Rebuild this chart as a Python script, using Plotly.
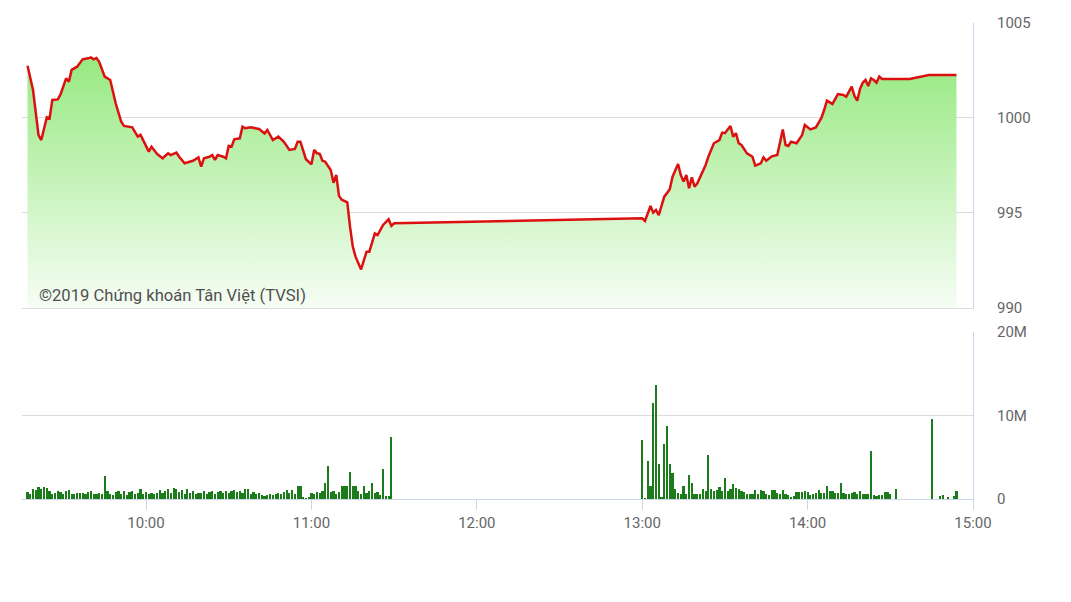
import pandas as pd
import plotly.graph_objects as go

DAY = "2019-01-01 "

# ---- price (VN-Index intraday) ----
price_times = [
    "09:17", "09:19", "09:21", "09:22", "09:24", "09:25", "09:26", "09:28", "09:29", "09:31",
    "09:32", "09:33", "09:35", "09:37", "09:39", "09:40", "09:41", "09:42", "09:43", "09:45",
    "09:47", "09:49", "09:51", "09:52", "09:55", "09:56", "09:57", "09:58", "10:01", "10:02",
    "10:04", "10:06", "10:08", "10:09", "10:11", "10:12", "10:14", "10:17", "10:19", "10:20",
    "10:21", "10:23", "10:24", "10:25", "10:26", "10:28", "10:29", "10:30", "10:31", "10:32",
    "10:34", "10:35", "10:36", "10:38", "10:41", "10:43", "10:44", "10:46", "10:48", "10:50",
    "10:52", "10:54", "10:55", "10:56", "10:58", "11:00", "11:01", "11:02", "11:03", "11:04",
    "11:05", "11:07", "11:08", "11:09", "11:10", "11:11", "11:13", "11:14", "11:15", "11:16",
    "11:18", "11:20", "11:21", "11:23", "11:24", "11:26", "11:28", "11:29", "11:30",
    "13:00", "13:01", "13:03", "13:04", "13:05", "13:06", "13:08", "13:10", "13:11", "13:13",
    "13:14", "13:15", "13:16", "13:17", "13:18", "13:19", "13:20", "13:21", "13:23", "13:24",
    "13:26", "13:28", "13:29", "13:30", "13:32", "13:33", "13:34", "13:35", "13:36", "13:38",
    "13:40", "13:41", "13:43", "13:44", "13:45", "13:47", "13:49", "13:51", "13:52", "13:53",
    "13:54", "13:56", "13:58", "13:59", "14:01", "14:03", "14:05", "14:06", "14:07", "14:09",
    "14:11", "14:13", "14:14", "14:16", "14:17", "14:18", "14:19", "14:20", "14:21", "14:22",
    "14:23", "14:24", "14:25", "14:26", "14:27", "14:37", "14:44", "14:54",
]
price_values = [
    1002.75, 1001.47, 999.10, 998.84, 1000.04, 999.98, 1000.95, 1000.98, 1001.25, 1002.09,
    1001.91, 1002.53, 1002.70, 1003.09, 1003.14, 1003.19, 1003.09, 1003.16, 1002.96, 1002.18,
    1002.00, 1000.77, 999.80, 999.58, 999.51, 999.28, 999.02, 999.11, 998.23, 998.49,
    998.11, 997.88, 998.14, 998.05, 998.18, 997.96, 997.62, 997.75, 997.93, 997.44,
    997.88, 997.96, 998.05, 997.79, 998.05, 997.96, 997.88, 998.53, 998.49, 998.88,
    998.93, 999.54, 999.46, 999.51, 999.42, 999.19, 999.37, 998.84, 999.02, 998.75,
    998.32, 998.37, 998.75, 998.75, 997.83, 997.56, 998.32, 998.14, 998.11, 997.75,
    997.70, 997.26, 996.59, 997.00, 995.90, 995.70, 995.56, 994.28, 993.23, 992.70,
    992.03, 992.96, 992.96, 993.93, 993.84, 994.37, 994.67, 994.32, 994.46,
    994.72, 994.58, 995.37, 995.02, 995.16, 994.89, 995.86, 996.25, 996.91, 997.58,
    997.00, 996.65, 997.00, 996.30, 996.88, 996.39, 996.56, 996.88, 997.53, 997.96,
    998.67, 998.84, 999.23, 999.20, 999.58, 999.02, 999.20, 998.67, 998.58, 998.14,
    997.96, 997.49, 997.61, 997.93, 997.75, 997.98, 998.05, 999.40, 998.58, 998.53,
    998.75, 998.67, 999.10, 999.63, 999.40, 999.50, 1000.00, 1000.42, 1000.91, 1000.74,
    1001.26, 1001.21, 1001.12, 1001.65, 1001.16, 1000.91, 1001.52, 1001.86, 1002.00, 1001.68,
    1002.09, 1002.00, 1001.86, 1002.18, 1002.05, 1002.05, 1002.26, 1002.26,
]

# ---- volume (millions of shares per minute) ----
vol_morning_start = "09:17"
vol_morning = [
    0.8, 0.6, 1.2, 1.1, 1.4, 1.2, 1.45, 1.3, 1.0, 0.6,
    0.7, 0.9, 0.85, 0.6, 0.9, 1.1, 0.6, 0.65, 0.7, 0.7,
    0.75, 0.6, 0.85, 0.9, 0.55, 0.6, 0.7, 0.65, 2.75, 0.9,
    0.6, 0.5, 0.8, 0.9, 0.6, 0.9, 0.5, 0.8, 1.0, 0.6,
    0.75, 1.2, 0.6, 0.8, 0.6, 0.7, 0.55, 0.7, 1.1, 0.7,
    0.9, 1.25, 0.7, 1.3, 1.2, 0.85, 1.1, 0.6, 1.2, 0.7,
    0.9, 0.6, 0.7, 0.7, 1.0, 0.6, 0.8, 1.0, 0.6, 0.8,
    1.0, 0.7, 1.0, 0.7, 0.9, 1.1, 0.8, 1.0, 0.75, 1.15,
    1.15, 0.6, 0.8, 0.6, 0.7, 0.5, 0.4, 0.5, 0.6, 0.5,
    0.6, 0.7, 0.6, 0.8, 1.1, 0.7, 1.1, 0.6, 1.55, 1.55,
    0.2, 0.1, 0.2, 0.7, 0.6, 0.8, 0.7, 0.9, 1.9, 3.9,
    0.8, 1.0, 0.6, 0.8, 1.55, 1.5, 1.55, 3.2, 1.5, 1.5,
    1.0, 0.6, 1.5, 0.7, 0.9, 1.9, 0.7, 0.8, 0.5, 3.6,
    0.3, 0.4, 7.4,
]
vol_afternoon_start = "13:00"
vol_afternoon = [
    7.1, 0.1, 4.55, 1.5, 11.5, 13.7, 4.2, 0.2, 6.6, 8.7,
    4.2, 3.15, 1.2, 0.7, 0.6, 1.5, 0.6, 2.9, 1.9, 0.6,
    0.6, 0.6, 1.2, 0.9, 5.3, 1.2, 0.9, 1.1, 1.4, 0.9,
    2.5, 0.9, 1.2, 1.8, 1.3, 1.2, 0.9, 0.8, 0.6, 0.6,
    0.6, 1.1, 0.6, 1.1, 1.0, 0.6, 0.5, 1.1, 1.1, 0.7,
    0.6, 1.1, 0.6, 0.5, 0.2, 0.35, 0.8, 0.8, 0.8, 0.9,
    0.8, 0.5, 0.6, 0.7, 1.1, 0.7, 0.7, 1.55, 0.9, 0.9,
    0.7, 0.7, 1.95, 0.7, 0.6, 0.6, 0.7, 0.8, 0.6, 0.9,
    0.6, 0.6, 0.6, 5.8, 0.5, 0.3, 0.5, 0.5, 0.85, 0.85,
    0.6, 0.0, 1.2,
]
vol_late_times = ["14:45", "14:48", "14:49", "14:51", "14:53", "14:54"]
vol_late = [9.55, 0.3, 0.5, 0.2, 0.3, 0.9]

x_ticks = ["10:00", "11:00", "12:00", "13:00", "14:00", "15:00"]
price_ticks = [990, 995, 1000, 1005]
vol_tickvals = [0, 10, 20]
vol_ticktext = ["0", "10M", "20M"]
watermark = "©2019 Chứng khoán Tân Việt (TVSI)"

# ---- build time axes ----
px_t = pd.to_datetime([DAY + t for t in price_times])
vm_t = pd.date_range(DAY + vol_morning_start, periods=len(vol_morning), freq="min")
va_t = pd.date_range(DAY + vol_afternoon_start, periods=len(vol_afternoon), freq="min")
vl_t = pd.to_datetime([DAY + t for t in vol_late_times])
vol_t = list(vm_t) + list(va_t) + list(vl_t)
vol_v = [v * 1e6 for v in vol_morning + vol_afternoon + vol_late]

FONT = "Roboto, 'Noto Sans', sans-serif"
GRID = "#dcdcdc"
AXIS = "#ccd6eb"

fig = go.Figure()
fig.add_trace(go.Scatter(
    x=px_t, y=price_values, mode="lines",
    line=dict(color="#dc1010", width=2.5),
    fill="tozeroy",
    fillgradient=dict(type="vertical", start=990, stop=1003.3,
                      colorscale=[[0, "rgba(246,253,244,1)"], [1, "rgb(150,233,128)"]]),
    xaxis="x", yaxis="y", hoverinfo="skip", showlegend=False,
))
fig.add_trace(go.Bar(
    x=vol_t, y=vol_v, width=48000, marker=dict(color="#1c7c1c", line=dict(width=0)),
    xaxis="x2", yaxis="y2", hoverinfo="skip", showlegend=False,
))

xr = [DAY + "09:15", DAY + "15:00"]
tickvals = [DAY + t for t in x_ticks]

fig.update_layout(
    width=1063, height=594,
    margin=dict(l=14, r=98, t=15, b=103, autoexpand=False),
    paper_bgcolor="white", plot_bgcolor="white",
    font=dict(family=FONT, color="#666666", size=15),
    bargap=0,
    xaxis=dict(domain=[0, 1], range=xr, type="date", anchor="y", automargin=False,
               showticklabels=False, showgrid=False, zeroline=False,
               showline=True, linecolor=GRID, linewidth=1, ticks=""),
    yaxis=dict(domain=[0.4013, 1], range=[990, 1005], side="right", anchor="x",
               automargin=False,
               tickvals=price_ticks, showgrid=True, gridcolor=GRID, gridwidth=1,
               zeroline=False, showline=True, linecolor=AXIS, linewidth=1,
               ticks="", ticklabelstandoff=20, tickfont=dict(size=15, color="#666666")),
    xaxis2=dict(domain=[0, 1], range=xr, type="date", anchor="y2", automargin=False,
                tickvals=tickvals, tickformat="%H:%M", showgrid=False, zeroline=False,
                showline=True, linecolor=AXIS, linewidth=1,
                ticks="outside", ticklen=10, tickcolor=AXIS, tickwidth=1,
                tickfont=dict(size=15, color="#666666")),
    yaxis2=dict(domain=[0, 0.3508], range=[0, 20e6], side="right", anchor="x2",
                automargin=False,
                tickvals=[v * 1e6 for v in vol_tickvals], ticktext=vol_ticktext,
                showgrid=True, gridcolor=GRID, gridwidth=1, zeroline=False,
                showline=True, linecolor=AXIS, linewidth=1,
                ticks="", ticklabelstandoff=20, tickfont=dict(size=15, color="#666666")),
    annotations=[dict(
        text=watermark, xref="paper", yref="paper", x=0.0158, y=0.4265,
        xanchor="left", yanchor="middle", showarrow=False,
        font=dict(family=FONT, size=16.6, color="#505050"),
    )],
)

fig.write_html("out.html")
